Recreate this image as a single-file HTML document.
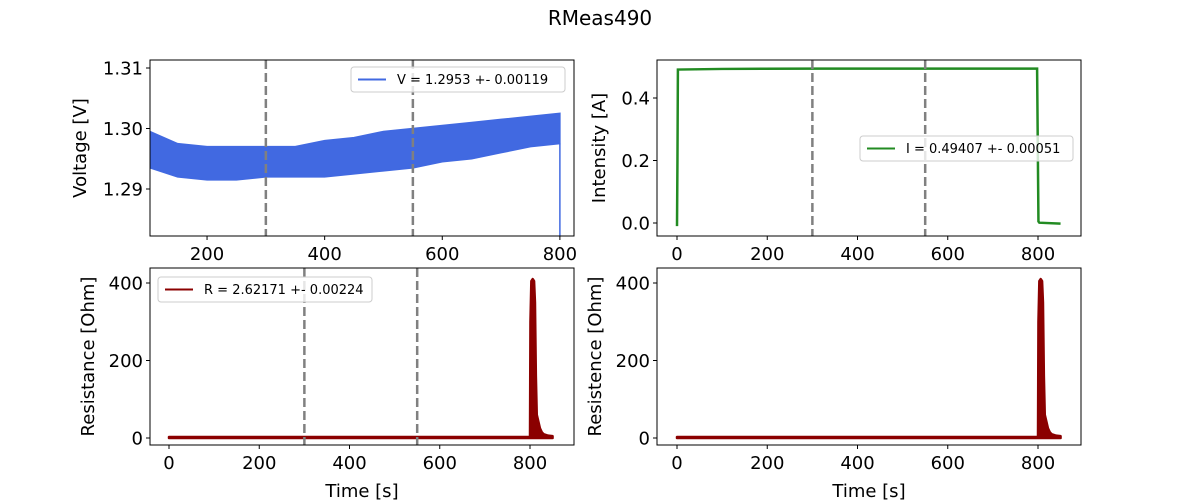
<!DOCTYPE html>
<html><head><meta charset="utf-8"><style>
body{margin:0;background:#fff}
svg{display:block;font-family:"DejaVu Sans","Liberation Sans",sans-serif}
.tk{font-size:18px;fill:#000}
.al{font-size:18px;fill:#000}
.lg{font-size:13px;fill:#000}
</style></head><body>
<svg id="fig" width="1200" height="500">
<rect width="1200" height="500" fill="#fff"/>
<text x="600" y="25" text-anchor="middle" font-size="20">RMeas490</text>
</svg>
<script>
// ---- data ----
const vTimes=[103,150,200,250,300,350,400,450,500,550,600,650,700,750,800];
const vUpper=[1.2995,1.2975,1.297,1.297,1.2970,1.297,1.298,1.2985,1.2995,1.3,1.3005,1.301,1.3015,1.302,1.3025];
const vLower=[1.2935,1.292,1.2915,1.2915,1.292,1.292,1.292,1.2925,1.293,1.2935,1.2945,1.295,1.296,1.297,1.2975];
const iTimes=[0,1,2,100,300,550,798,801,803,850];
const iValues=[-0.01,0.2,0.491,0.493,0.494,0.494,0.494,0.005,0.001,-0.002];
const rTimes=[0,800,801,803,806,809,811,813,815,818,822,826,830,840,850];
const rUpper=[2.6,2.6,300,405,410,405,350,160,60,45,25,15,10,6,5];
const vLines=[300,550];
const xTicksA=[200,400,600,800];
const xTicksB=[0,200,400,600,800];
const vTicks=[1.29,1.30,1.31];
const iTicks=[0.0,0.2,0.4];
const rTicks=[0,200,400];
// ---- helpers ----
const NS="http://www.w3.org/2000/svg",fig=document.getElementById('fig');
function mk(t,a,p){const e=document.createElementNS(NS,t);for(const k in a)e.setAttribute(k,a[k]);(p||fig).appendChild(e);return e;}
function lin(d0,d1,r0,r1){return v=>r0+(v-d0)*(r1-r0)/(d1-d0);}
function axes(name,L,T,R,B,xs,ys,xt,yt,yfmt,xlabel,ylabel,yoff){
  const g=mk('g',{});
  
  
  xt.forEach(v=>{const x=xs(v);mk('line',{x1:x,x2:x,y1:B,y2:B+4,stroke:'#000'},g);
    const t=mk('text',{x:x,y:B+24,'text-anchor':'middle',class:'tk'},g);t.textContent=v;
    
    });
  yt.forEach(v=>{const y=ys(v);mk('line',{x1:L-4,x2:L,y1:y,y2:y,stroke:'#000'},g);
    const t=mk('text',{x:L-7,y:y+6.5,'text-anchor':'end',class:'tk'},g);t.textContent=yfmt(v);
    
    });
  if(xlabel){const t=mk('text',{x:(L+R)/2,y:B+52,'text-anchor':'middle',class:'al'},g);t.textContent=xlabel;
    
    }
  const cx=L-yoff,cy=(T+B)/2;
  const t=mk('text',{x:cx,y:cy,'text-anchor':'middle',class:'al',transform:`rotate(-90 ${cx} ${cy})`},g);t.textContent=ylabel;
  
  
  return g;
}
function frame(L,T,R,B){const r=mk('rect',{x:L,y:T,width:R-L,height:B-T,fill:'none',stroke:'#000','stroke-width':1});
  
  }
function clip(id,L,T,R,B){const c=mk('clipPath',{id:id});mk('rect',{x:L,y:T,width:R-L,height:B-T},c);}
function dashes(xs,T,B,cp){vLines.forEach(v=>{const l=mk('line',{x1:xs(v),x2:xs(v),y1:T,y2:B,stroke:'#808080','stroke-width':2.5,'stroke-dasharray':'9,4','clip-path':`url(#${cp})`});
  
  });}
function legend(x,y,w,color,label){const g=mk('g',{});
  
  
  mk('rect',{x:x,y:y,width:w,height:25,rx:3,fill:'#fff','fill-opacity':0.8,stroke:'#ccc'},g);
  mk('line',{x1:x+7,x2:x+35,y1:y+12.5,y2:y+12.5,stroke:color,'stroke-width':2},g);
  const t=mk('text',{x:x+46,y:y+17,class:'lg'},g);t.textContent=label;}
// ---- panel 1: voltage ----
{const L=150,T=60,R=574,B=236;const xs=lin(103,824,L,R),ys=v=>189-(v-1.29)*6050;
 clip('c1',L,T,R,B);
 axes('voltage-axes',L,T,R,B,xs,ys,xTicksA,vTicks,v=>v.toFixed(2),null,'Voltage [V]',64);
 let d='M'+vTimes.map((t,i)=>xs(t)+','+ys(vUpper[i])).join('L');
 for(let i=vTimes.length-1;i>=0;i--)d+='L'+xs(vTimes[i])+','+ys(vLower[i]);
 const p=mk('path',{d:d+'Z',fill:'#4169e1',stroke:'#4169e1','stroke-width':1.5,'clip-path':'url(#c1)'});
 
 
 const dr=mk('line',{x1:xs(800),x2:xs(800),y1:ys(vLower[vLower.length-1]),y2:B,stroke:'#4169e1','stroke-width':1.5});
 
 
 dashes(xs,T,B,'c1');frame(L,T,R,B);
 legend(351,67,214,'#4169e1','V = 1.2953 +- 0.00119');}
// ---- panel 2: current ----
{const L=657,T=60,R=1081,B=236;const xs=lin(0,800,677,1038),ys=v=>223-v*312.5;
 clip('c2',L,T,R,B);
 axes('current-axes',L,T,R,B,xs,ys,xTicksB,iTicks,v=>v.toFixed(1),null,'Intensity [A]',52);
 const p=mk('polyline',{points:iTimes.map((t,i)=>xs(t)+','+ys(iValues[i])).join(' '),fill:'none',stroke:'#228b22','stroke-width':2.5,'clip-path':'url(#c2)'});
 
 
 dashes(xs,T,B,'c2');frame(L,T,R,B);
 legend(860,136,213,'#228b22','I = 0.49407 +- 0.00051');}
// ---- panels 3,4: resistance ----
function resPanel(id,L,R,x0,x800,label,withMarks){const T=268,B=445;const xs=lin(0,800,x0,x800),ys=v=>438-v*0.3875;
 clip(id,L,T,R,B);
 axes(id==='c3'?'resistance-axes':'resistance-copy-axes',L,T,R,B,xs,ys,xTicksB,rTicks,v=>String(v),'Time [s]',label,56);
 let d='M'+rTimes.map((t,i)=>xs(t)+','+ys(rUpper[i])).join('L');
 d+='L'+xs(rTimes[rTimes.length-1])+','+ys(0)+'L'+xs(800)+','+ys(0)+'L'+xs(0)+','+ys(0);
 const p=mk('path',{d:d+'Z',fill:'#8b0000',stroke:'#8b0000','stroke-width':2.5,'stroke-linejoin':'round','clip-path':`url(#${id})`});
 
 
 if(withMarks)dashes(xs,T,B,id);frame(L,T,R,B);}
resPanel('c3',150,574,169,530,'Resistance [Ohm]',true);
legend(158,277,214,'#8b0000','R = 2.62171 +- 0.00224');
resPanel('c4',657,1081,677,1038,'Resistence [Ohm]',false);
</script>
</body></html>
